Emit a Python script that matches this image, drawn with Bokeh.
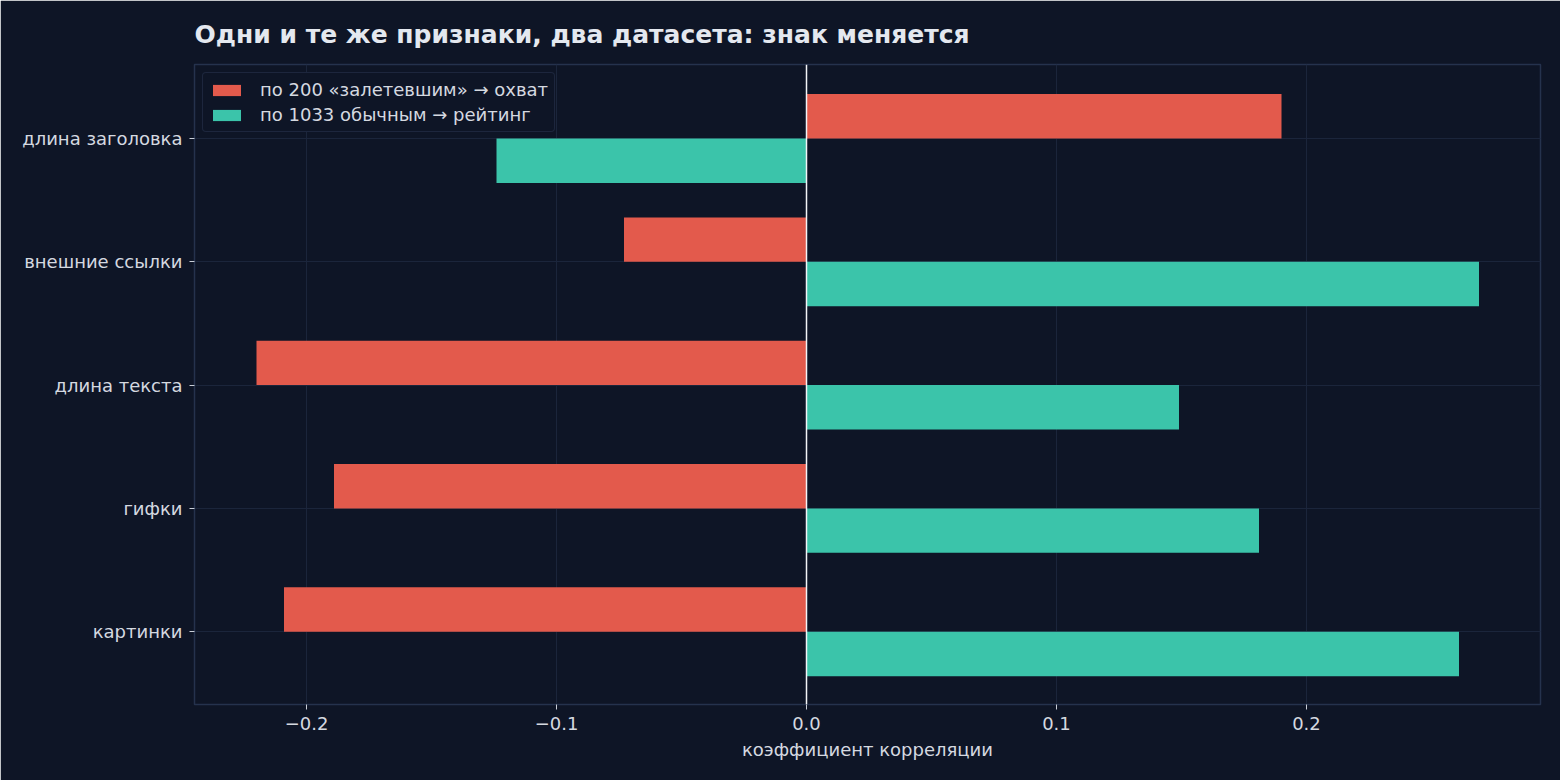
from bokeh.plotting import figure
from bokeh.models import ColumnDataSource, FixedTicker, Span, Legend, LegendItem
from bokeh.embed import file_html
from bokeh.resources import INLINE

# Features, listed top to bottom
features = ["длина заголовка", "внешние ссылки", "длина текста", "гифки", "картинки"]
# Correlation: 200 viral posts vs reach
viral_corr = [0.190, -0.073, -0.220, -0.189, -0.209]
# Correlation: 1033 regular posts vs rating
regular_corr = [-0.124, 0.269, 0.149, 0.181, 0.261]

viral_label = "по 200 «залетевшим» → охват"
regular_label = "по 1033 обычным → рейтинг"

BG = "#0e1526"
RED = "#e35a4c"
TEAL = "#3bc4aa"
TXT = "#d5d9e0"
GRID = "#1b253b"
FRAME = "#25324d"
FONT = "DejaVu Sans"

n = len(features)
pos = [n - 1 - i for i in range(n)]  # top feature gets the highest y
bar_h = 0.36
off = 0.18

src_v = ColumnDataSource(dict(y=[p + off for p in pos], v=viral_corr))
src_r = ColumnDataSource(dict(y=[p - off for p in pos], v=regular_corr))

p = figure(width=1560, height=780, output_backend="svg", toolbar_location=None,
           x_range=(-0.2448, 0.2936), y_range=(-0.59, 4.6),
           background_fill_color=BG, border_fill_color=BG,
           min_border_left=194, min_border_right=20, min_border_top=64, min_border_bottom=76,
           title="Одни и те же признаки, два датасета: знак меняется")

p.title.text_font = FONT
p.title.text_font_size = "25px"
p.title.text_font_style = "bold"
p.title.text_color = "#e4e8ef"
p.title.align = "left"
p.title.standoff = 31

rv = p.hbar(y="y", right="v", left=0, height=bar_h, source=src_v, fill_color=RED, line_color=None)
rr = p.hbar(y="y", right="v", left=0, height=bar_h, source=src_r, fill_color=TEAL, line_color=None)

p.add_layout(Span(location=0, dimension="height", line_color="#f2f4f7", line_width=1.5))

p.outline_line_color = FRAME
p.outline_line_width = 1.5

p.xaxis.ticker = FixedTicker(ticks=[-0.2, -0.1, 0.0, 0.1, 0.2])
p.xaxis.major_label_overrides = {-0.2: "−0.2", -0.1: "−0.1", 0.0: "0.0", 0.1: "0.1", 0.2: "0.2"}
p.yaxis.ticker = FixedTicker(ticks=pos)
p.yaxis.major_label_overrides = {p_: f for p_, f in zip(pos, features)}

for ax in (p.xaxis[0], p.yaxis[0]):
    ax.axis_line_color = None
    ax.major_tick_line_color = "#c9ced8"
    ax.major_tick_out = 5
    ax.major_tick_in = 0
    ax.minor_tick_line_color = None
    ax.major_label_text_font = FONT
    ax.major_label_text_font_size = "18px"
    ax.major_label_text_color = TXT
    ax.major_label_standoff = 7

p.xaxis.axis_label = "коэффициент корреляции"
p.xaxis.axis_label_text_font = FONT
p.xaxis.axis_label_text_font_size = "18px"
p.xaxis.axis_label_text_font_style = "normal"
p.xaxis.axis_label_text_color = TXT
p.xaxis.axis_label_standoff = 6

p.xgrid.ticker = FixedTicker(ticks=[-0.2, -0.1, 0.0, 0.1, 0.2])
p.ygrid.ticker = FixedTicker(ticks=pos)
p.xgrid.grid_line_color = GRID
p.ygrid.grid_line_color = GRID

legend = Legend(items=[LegendItem(label=viral_label, renderers=[rv]),
                       LegendItem(label=regular_label, renderers=[rr])],
                location="top_left")
legend.background_fill_color = BG
legend.background_fill_alpha = 1
legend.border_line_color = "#2b3854"
legend.border_radius = 4
legend.label_text_font = FONT
legend.label_text_font_size = "18px"
legend.label_text_color = TXT
legend.glyph_width = 35
legend.glyph_height = 14
legend.spacing = 4
legend.padding = 6
legend.margin = 8
legend.label_standoff = 16
p.add_layout(legend)

open("out.html", "w").write(file_html(p, INLINE))
